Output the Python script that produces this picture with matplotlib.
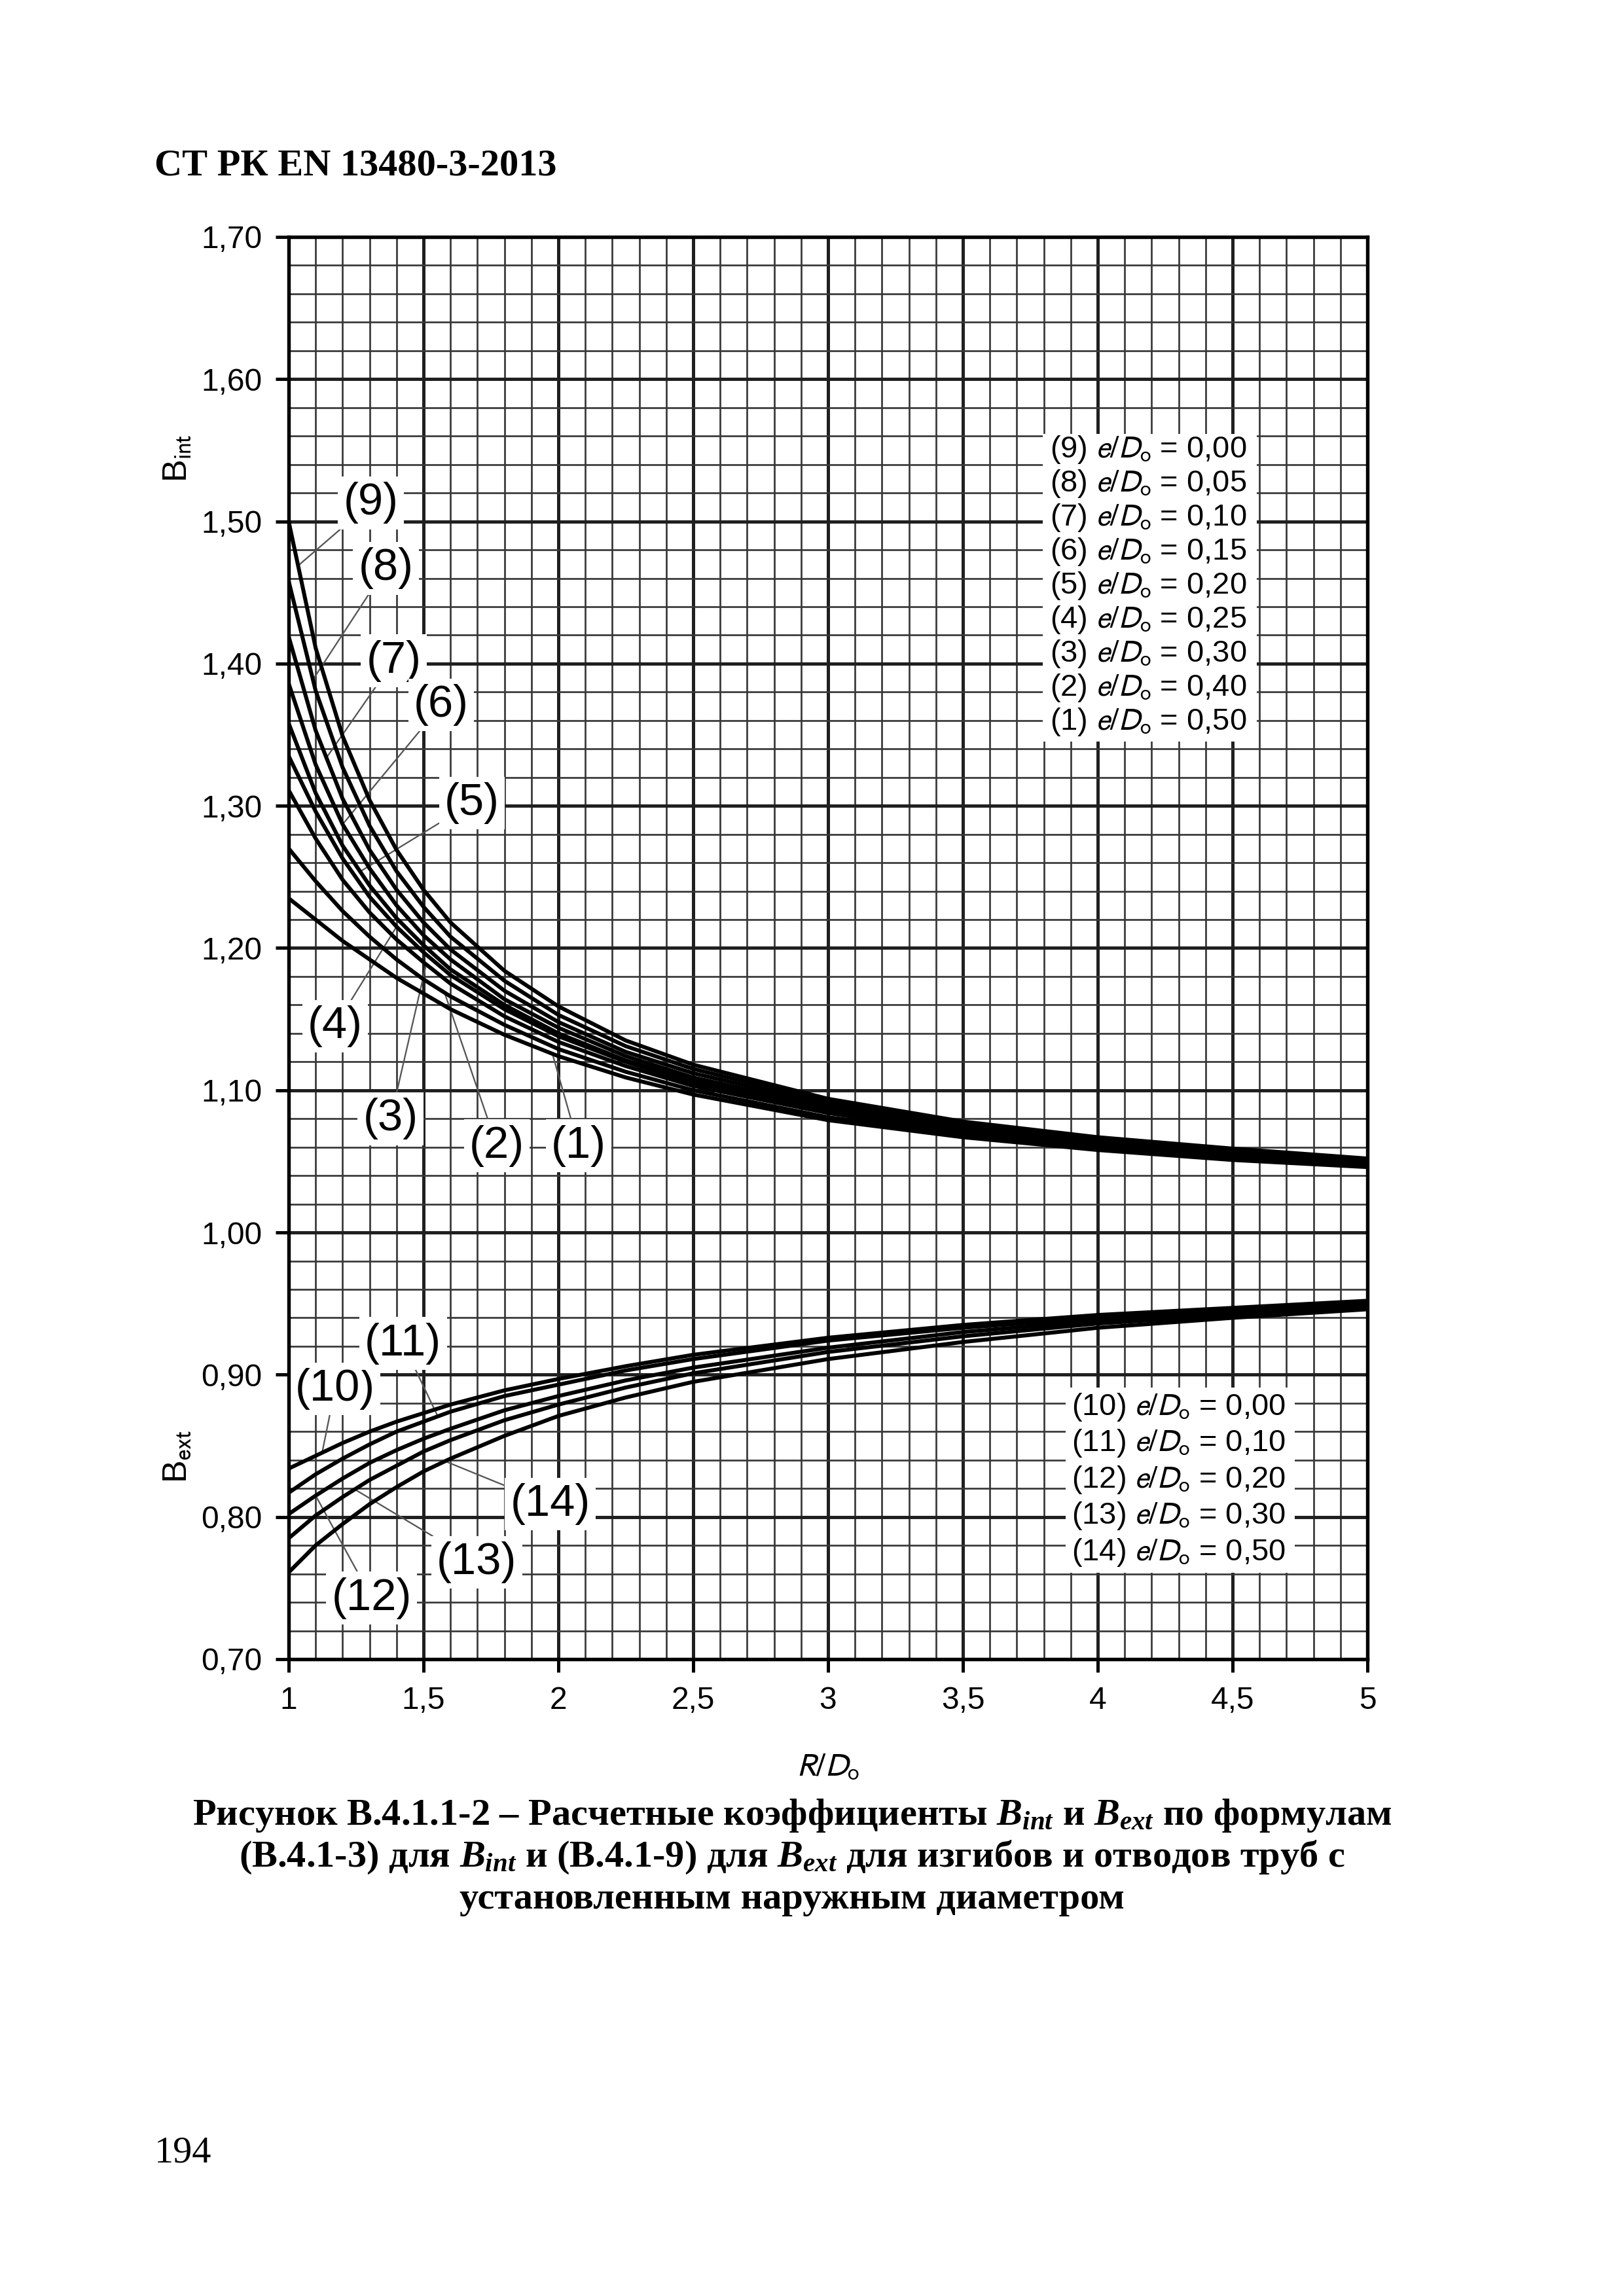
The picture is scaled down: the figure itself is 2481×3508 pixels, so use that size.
import numpy as np
import matplotlib
matplotlib.use('Agg')
import matplotlib.pyplot as plt
from matplotlib.patches import Rectangle
from matplotlib.ticker import MultipleLocator, FixedLocator, FixedFormatter

plt.rcParams['font.family'] = ['Liberation Sans', 'DejaVu Sans']
# serif bold fonts for the caption formulas
plt.rcParams['mathtext.fontset'] = 'custom'
plt.rcParams['mathtext.rm'] = 'Liberation Serif:bold'
plt.rcParams['mathtext.it'] = 'Liberation Serif:italic:bold'
plt.rcParams['mathtext.bf'] = 'Liberation Serif:bold'

# R/Do
r_d = [1.0, 1.1, 1.2, 1.3, 1.4, 1.5, 1.6, 1.8, 2.0, 2.25, 2.5, 3.0, 3.5, 4.0, 4.5, 5.0]

# Bint, curves (1)..(9)
b_int_1 = [1.235, 1.220, 1.205, 1.192, 1.179, 1.168, 1.157, 1.139, 1.124, 1.109, 1.097, 1.079, 1.067, 1.058, 1.051, 1.046]
b_int_2 = [1.270, 1.247, 1.226, 1.208, 1.192, 1.178, 1.166, 1.146, 1.129, 1.113, 1.100, 1.081, 1.069, 1.059, 1.052, 1.047]
b_int_3 = [1.311, 1.277, 1.248, 1.225, 1.206, 1.190, 1.175, 1.152, 1.134, 1.117, 1.103, 1.084, 1.070, 1.061, 1.053, 1.048]
b_int_4 = [1.335, 1.296, 1.263, 1.236, 1.215, 1.197, 1.181, 1.157, 1.138, 1.120, 1.105, 1.085, 1.072, 1.062, 1.054, 1.048]
b_int_5 = [1.358, 1.309, 1.272, 1.244, 1.221, 1.202, 1.185, 1.160, 1.140, 1.121, 1.107, 1.086, 1.072, 1.062, 1.055, 1.049]
b_int_6 = [1.386, 1.329, 1.287, 1.256, 1.230, 1.209, 1.192, 1.164, 1.144, 1.124, 1.109, 1.088, 1.073, 1.063, 1.055, 1.049]
b_int_7 = [1.419, 1.353, 1.305, 1.269, 1.241, 1.218, 1.199, 1.170, 1.148, 1.127, 1.112, 1.090, 1.075, 1.064, 1.056, 1.050]
b_int_8 = [1.458, 1.381, 1.327, 1.286, 1.254, 1.229, 1.208, 1.177, 1.153, 1.131, 1.115, 1.092, 1.077, 1.066, 1.057, 1.051]
b_int_9 = [1.500, 1.411, 1.349, 1.304, 1.269, 1.241, 1.218, 1.184, 1.159, 1.135, 1.118, 1.094, 1.078, 1.067, 1.059, 1.052]

# Bext, curves (10)..(14)
b_ext_10 = [0.834, 0.843, 0.852, 0.860, 0.867, 0.873, 0.879, 0.889, 0.897, 0.906, 0.914, 0.926, 0.935, 0.942, 0.947, 0.952]
b_ext_11 = [0.817, 0.830, 0.841, 0.851, 0.860, 0.867, 0.874, 0.885, 0.893, 0.903, 0.911, 0.924, 0.933, 0.940, 0.946, 0.951]
b_ext_12 = [0.802, 0.815, 0.827, 0.838, 0.847, 0.855, 0.862, 0.875, 0.885, 0.896, 0.905, 0.919, 0.930, 0.938, 0.944, 0.949]
b_ext_13 = [0.785, 0.801, 0.814, 0.826, 0.836, 0.846, 0.854, 0.868, 0.879, 0.891, 0.901, 0.916, 0.927, 0.936, 0.942, 0.948]
b_ext_14 = [0.761, 0.780, 0.795, 0.809, 0.821, 0.832, 0.841, 0.857, 0.871, 0.884, 0.895, 0.911, 0.923, 0.933, 0.940, 0.946]

int_numbers = ['(9)', '(8)', '(7)', '(6)', '(5)', '(4)', '(3)', '(2)', '(1)']
int_ed = ['0,00', '0,05', '0,10', '0,15', '0,20', '0,25', '0,30', '0,40', '0,50']
ext_numbers = ['(10)', '(11)', '(12)', '(13)', '(14)']
ext_ed = ['0,00', '0,10', '0,20', '0,30', '0,50']

x_ticks = [1, 1.5, 2, 2.5, 3, 3.5, 4, 4.5, 5]
x_tick_labels = ['1', '1,5', '2', '2,5', '3', '3,5', '4', '4,5', '5']
y_ticks = [0.7, 0.8, 0.9, 1.0, 1.1, 1.2, 1.3, 1.4, 1.5, 1.6, 1.7]
y_tick_labels = ['0,70', '0,80', '0,90', '1,00', '1,10', '1,20', '1,30', '1,40', '1,50', '1,60', '1,70']

W, H = 2481, 3508
fig = plt.figure(figsize=(W / 300, H / 300), dpi=300)
ax = fig.add_axes([441 / W, 1 - 2535 / H, (2089 - 441) / W, (2535 - 362) / H])
ax.set_xlim(1, 5)
ax.set_ylim(0.70, 1.70)

ax.xaxis.set_major_locator(FixedLocator(x_ticks))
ax.xaxis.set_major_formatter(FixedFormatter(x_tick_labels))
ax.xaxis.set_minor_locator(MultipleLocator(0.1))
ax.yaxis.set_major_locator(FixedLocator(y_ticks))
ax.yaxis.set_major_formatter(FixedFormatter(y_tick_labels))
ax.yaxis.set_minor_locator(MultipleLocator(0.02))
ax.tick_params(which='major', direction='out', length=4.8, width=1.2,
               pad=5.0, labelsize=11.5, color='black')
ax.tick_params(which='minor', length=0)
ax.set_axisbelow(True)
ax.grid(which='minor', color='#383838', lw=0.65)
ax.grid(which='major', color='#202020', lw=1.2)
for sp in ax.spines.values():
    sp.set_linewidth(1.3)
    sp.set_color('black')

int_curves = [b_int_9, b_int_8, b_int_7, b_int_6, b_int_5, b_int_4, b_int_3, b_int_2, b_int_1]
ext_curves = [b_ext_10, b_ext_11, b_ext_12, b_ext_13, b_ext_14]
for c in int_curves + ext_curves:
    ax.plot(r_d, c, color='black', lw=1.45, zorder=3, solid_joinstyle='round')

# white legend boxes
ax.add_patch(Rectangle((3.796, 1.3453), 4.590 - 3.796, 1.5616 - 1.3453,
                       fc='white', ec='none', zorder=2))
ax.add_patch(Rectangle((3.881, 0.7609), 4.731 - 3.881, 0.8912 - 0.7609,
                       fc='white', ec='none', zorder=2))
for i, (n, v) in enumerate(zip(int_numbers, int_ed)):
    ax.text(3.823, 1.5506 - 0.02393 * i, n + r' $e/D_{\mathrm{o}}$ = ' + v,
            fontsize=11.3, ha='left', va='center', zorder=4, math_fontfamily='stixsans')
for i, (n, v) in enumerate(zip(ext_numbers, ext_ed)):
    ax.text(3.903, 0.8773 - 0.02554 * i, n + r' $e/D_{\mathrm{o}}$ = ' + v,
            fontsize=11.3, ha='left', va='center', zorder=4, math_fontfamily='stixsans')

# curve labels: text position and x where the leader meets the curve
int_label_pos = [(1.305, 1.513, 1.035), (1.360, 1.467, 1.09), (1.390, 1.402, 1.14),
                 (1.566, 1.371, 1.20), (1.680, 1.302, 1.265), (1.172, 1.145, 1.40),
                 (1.378, 1.080, 1.51), (1.772, 1.061, 1.578), (2.075, 1.061, 1.978)]
ext_label_pos = [(1.172, 0.890, 1.124), (1.424, 0.922, 1.553), (1.308, 0.743, 1.10),
                 (1.697, 0.768, 1.245), (1.970, 0.809, 1.58)]


def label(text, curve, tx, ty, lx):
    ax.annotate(text, xy=(lx, np.interp(lx, r_d, curve)), xytext=(tx, ty),
                fontsize=16.5, ha='center', va='center', zorder=2.5,
                bbox=dict(boxstyle='square,pad=0.12', fc='white', ec='none'),
                arrowprops=dict(arrowstyle='-', color='#555555', lw=0.55,
                                shrinkA=0, shrinkB=0))


for n, c, p in zip(int_numbers, int_curves, int_label_pos):
    label(n, c, *p)
for n, c, p in zip(ext_numbers, ext_curves, ext_label_pos):
    label(n, c, *p)

# axis titles
fig.text(1265 / W, 1 - 2700 / H, r'$R/D_{\mathrm{o}}$', ha='center', va='center',
         fontsize=12, math_fontfamily='stixsans')
fig.text(271 / W, 1 - 700 / H, r'B$_{\mathrm{int}}$', ha='center', va='center',
         rotation=90, fontsize=12.5, math_fontfamily='stixsans')
fig.text(271 / W, 1 - 2225 / H, r'B$_{\mathrm{ext}}$', ha='center', va='center',
         rotation=90, fontsize=12.5, math_fontfamily='stixsans')

# page texts
fig.text(236 / W, 1 - 268 / H, 'СТ РК EN 13480-3-2013', ha='left', va='baseline',
         fontfamily='Liberation Serif', fontweight='bold', fontsize=14)
caption = ['Рисунок В.4.1.1-2 – Расчетные коэффициенты $B_{int}$ и $B_{ext}$ по формулам',
           '(В.4.1-3) для $B_{int}$ и (В.4.1-9) для $B_{ext}$ для изгибов и отводов труб с',
           'установленным наружным диаметром']
for i, line in enumerate(caption):
    fig.text(1210 / W, 1 - (2788 + 64 * i) / H, line, ha='center', va='baseline',
             fontfamily='Liberation Serif', fontweight='bold', fontsize=14,
             math_fontfamily='custom')
fig.text(236 / W, 1 - 3303 / H, '194', ha='left', va='baseline',
         fontfamily='Liberation Serif', fontsize=14)

fig.savefig('out.png', dpi=300)
